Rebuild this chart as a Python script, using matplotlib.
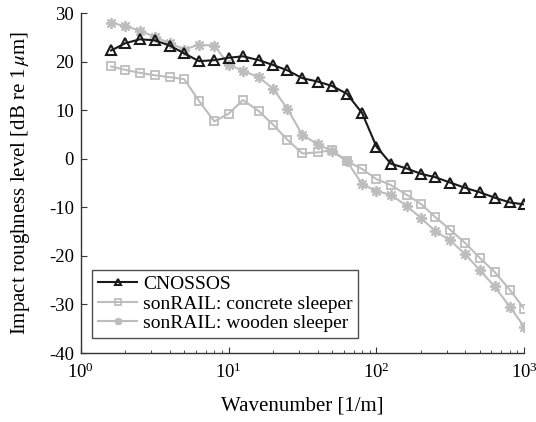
import numpy as np
import matplotlib
matplotlib.use("Agg")
import matplotlib.pyplot as plt

# one-third octave band wavenumbers [1/m]
wavenumber = [1.6, 2, 2.5, 3.15, 4, 5, 6.3, 8, 10, 12.5, 16, 20, 25, 31.5, 40,
              50, 63, 80, 100, 125, 160, 200, 250, 315, 400, 500, 630, 800, 1000]

cnossos = [22.3, 23.8, 24.6, 24.4, 23.3, 21.7, 20.1, 20.3, 20.8, 21.1, 20.3,
           19.3, 18.2, 16.6, 15.9, 15.0, 13.4, 9.4, 2.5, -1.0, -2.0, -3.1,
           -3.8, -4.9, -6.0, -6.9, -8.0, -9.0, -9.4]

concrete = [19.0, 18.3, 17.7, 17.2, 16.8, 16.4, 11.9, 7.7, 9.3, 12.1, 9.8,
            7.0, 3.9, 1.1, 1.3, 1.8, -0.5, -2.1, -4.2, -5.4, -7.4, -9.3,
            -12.0, -14.6, -17.4, -20.4, -23.3, -27.0, -30.9]

wooden = [28.0, 27.3, 26.4, 25.1, 23.8, 22.5, 23.5, 23.3, 19.4, 18.1, 16.8,
          14.4, 10.3, 4.9, 3.0, 1.6, -0.5, -5.2, -6.7, -7.4, -9.7, -12.2,
          -14.9, -16.8, -19.7, -22.9, -26.3, -30.5, -34.6]

labels = ["CNOSSOS", "sonRAIL: concrete sleeper", "sonRAIL: wooden sleeper"]

plt.rcParams["font.family"] = ["Liberation Serif", "DejaVu Serif"]
plt.rcParams["mathtext.fontset"] = "stix"
plt.rcParams["axes.unicode_minus"] = False
plt.rcParams["xtick.direction"] = "in"
plt.rcParams["ytick.direction"] = "in"

fig = plt.figure(figsize=(5.36, 4.22), dpi=100)
ax = fig.add_axes([0.151, 0.1635, 0.827, 0.8055])

dark = "#1a1a1a"
grey = "#bdbdbd"

ax.plot(wavenumber, cnossos, color=dark, lw=1.5, marker="^", ms=7,
        mfc="none", mec=dark, mew=1.5, label=labels[0], zorder=4)
ax.plot(wavenumber, concrete, color=grey, lw=1.5, marker="s", ms=6,
        mfc="none", mec=grey, mew=1.3, label=labels[1], zorder=3)
ax.plot(wavenumber, wooden, color=grey, lw=1.5, marker=(8, 2, 0), ms=8,
        mec=grey, mew=1.3, label=labels[2], zorder=3)

ax.set_xscale("log")
ax.set_xlim(1, 1000)
ax.set_ylim(-40, 30)
ax.set_yticks(np.arange(-40, 31, 10))

for side in ["top", "right"]:
    ax.spines[side].set_visible(False)
for side in ["left", "bottom"]:
    ax.spines[side].set_color("#333333")
    ax.spines[side].set_linewidth(1.0)

ax.tick_params(axis="both", which="major", labelsize=13.5, length=4,
               color="#333333")
ax.tick_params(axis="y", which="major", pad=5)
ax.tick_params(axis="x", which="major", pad=7)
ax.tick_params(axis="both", which="minor", length=2.5, color="#333333")

ax.set_xlabel("Wavenumber [1/m]", fontsize=15, labelpad=10)
ax.set_ylabel(r"Impact roughness level [dB re 1$\,\mu$m]", fontsize=15,
              labelpad=12)

leg = ax.legend(loc="lower left", bbox_to_anchor=(0.026, 0.044),
                fontsize=14, frameon=True, fancybox=False, markerscale=0.65,
                handlelength=2.0, handletextpad=0.3, borderpad=0.3,
                labelspacing=0.1, borderaxespad=0)
leg.get_frame().set_edgecolor("#222222")
leg.get_frame().set_linewidth(1.0)

fig.savefig("out.png", dpi=100)
